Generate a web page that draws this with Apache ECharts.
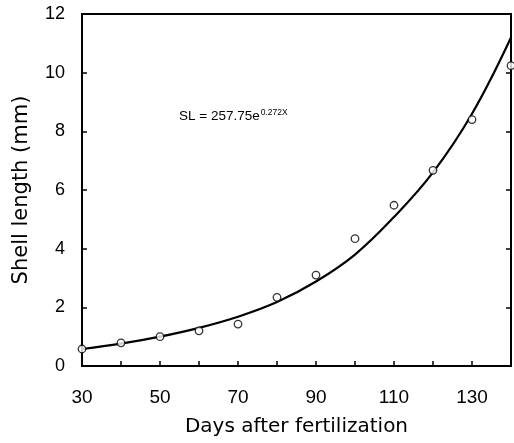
<!DOCTYPE html>
<html>
<head>
<meta charset="utf-8">
<script src="https://cdn.jsdelivr.net/npm/echarts@6/dist/echarts.min.js"></script>
<style>html,body{margin:0;padding:0;background:#fff;}#c{width:514px;height:443px;}</style>
</head>
<body>
<div id="c"></div>
<script>
// Observed data (days after fertilization, shell length mm)
const obsDays = [30, 40, 50, 60, 70, 80, 90, 100, 110, 120, 130, 140];
const obsLength = [0.58, 0.79, 1.0, 1.2, 1.43, 2.34, 3.1, 4.34, 5.48, 6.67, 8.4, 10.24];
// Fitted curve
const fitDays = [30, 40, 50, 60, 70, 80, 90, 100, 110, 120, 130, 140];
const fitLength = [0.58, 0.76, 1.0, 1.3, 1.68, 2.18, 2.88, 3.8, 5.08, 6.6, 8.6, 11.2];
const xLabels = [30, 50, 70, 90, 110, 130];
const yLabels = [0, 2, 4, 6, 8, 10, 12];

const chart = echarts.init(document.getElementById('c'));
const font = 'Liberation Sans, Arial, sans-serif';
chart.setOption({
  animation: false,
  backgroundColor: '#fff',
  grid: { left: 82, top: 14, width: 433, height: 352, show: true, borderColor: '#000', borderWidth: 2, backgroundColor: 'transparent' },
  graphic: [{
    type: 'text', left: 179, top: 108,
    style: {
      text: '{a|SL = 257.75e}{s|0.272X}',
      rich: {
        a: { fontSize: 13.5, fontFamily: font, fill: '#000' },
        s: { fontSize: 8.5, fontFamily: font, fill: '#000', padding: [0, 0, 8, 1] }
      }
    }
  }],
  xAxis: {
    type: 'value', min: 30, max: 140, interval: 10,
    name: 'Days after fertilization', nameLocation: 'middle', nameGap: 51,
    nameTextStyle: { fontSize: 20, fontFamily: 'DejaVu Sans', color: '#000' },
    axisLine: { show: true, lineStyle: { color: '#000', width: 2 } },
    axisTick: { show: true, inside: true, length: 5, lineStyle: { color: '#000', width: 1.5 } },
    splitLine: { show: false },
    axisLabel: {
      margin: 22, fontSize: 19, fontFamily: font, color: '#000',
      formatter: v => xLabels.indexOf(v) >= 0 ? String(v) : ''
    }
  },
  yAxis: [{
    type: 'value', min: 0, max: 12, interval: 2,
    name: 'Shell length (mm)', nameLocation: 'middle', nameGap: 50,
    nameTextStyle: { fontSize: 21, fontFamily: 'DejaVu Sans', color: '#000' },
    axisLine: { show: true, lineStyle: { color: '#000', width: 2 } },
    axisTick: { show: true, inside: true, length: 5, lineStyle: { color: '#000', width: 1.5 } },
    splitLine: { show: false },
    axisLabel: {
      margin: 17, fontSize: 18, fontFamily: font, color: '#000',
      formatter: v => yLabels.indexOf(v) >= 0 ? String(v) : ''
    }
  }, {
    type: 'value', min: 0, max: 12, interval: 2, position: 'right',
    axisLine: { show: true, lineStyle: { color: '#000', width: 2 } },
    axisTick: { show: true, inside: true, length: 5, lineStyle: { color: '#000', width: 1.5 } },
    axisLabel: { show: false }, splitLine: { show: false }
  }],
  series: [{
    type: 'line', smooth: 0.4, showSymbol: false, z: 2,
    lineStyle: { color: '#000', width: 2.2 },
    data: fitDays.map((d, i) => [d, fitLength[i]])
  }, {
    type: 'scatter', symbol: 'circle', symbolSize: 7.5, z: 3,
    itemStyle: { color: '#fff', borderColor: '#000', borderWidth: 1.3 },
    data: obsDays.map((d, i) => [d, obsLength[i]])
  }]
});
</script>
</body>
</html>
